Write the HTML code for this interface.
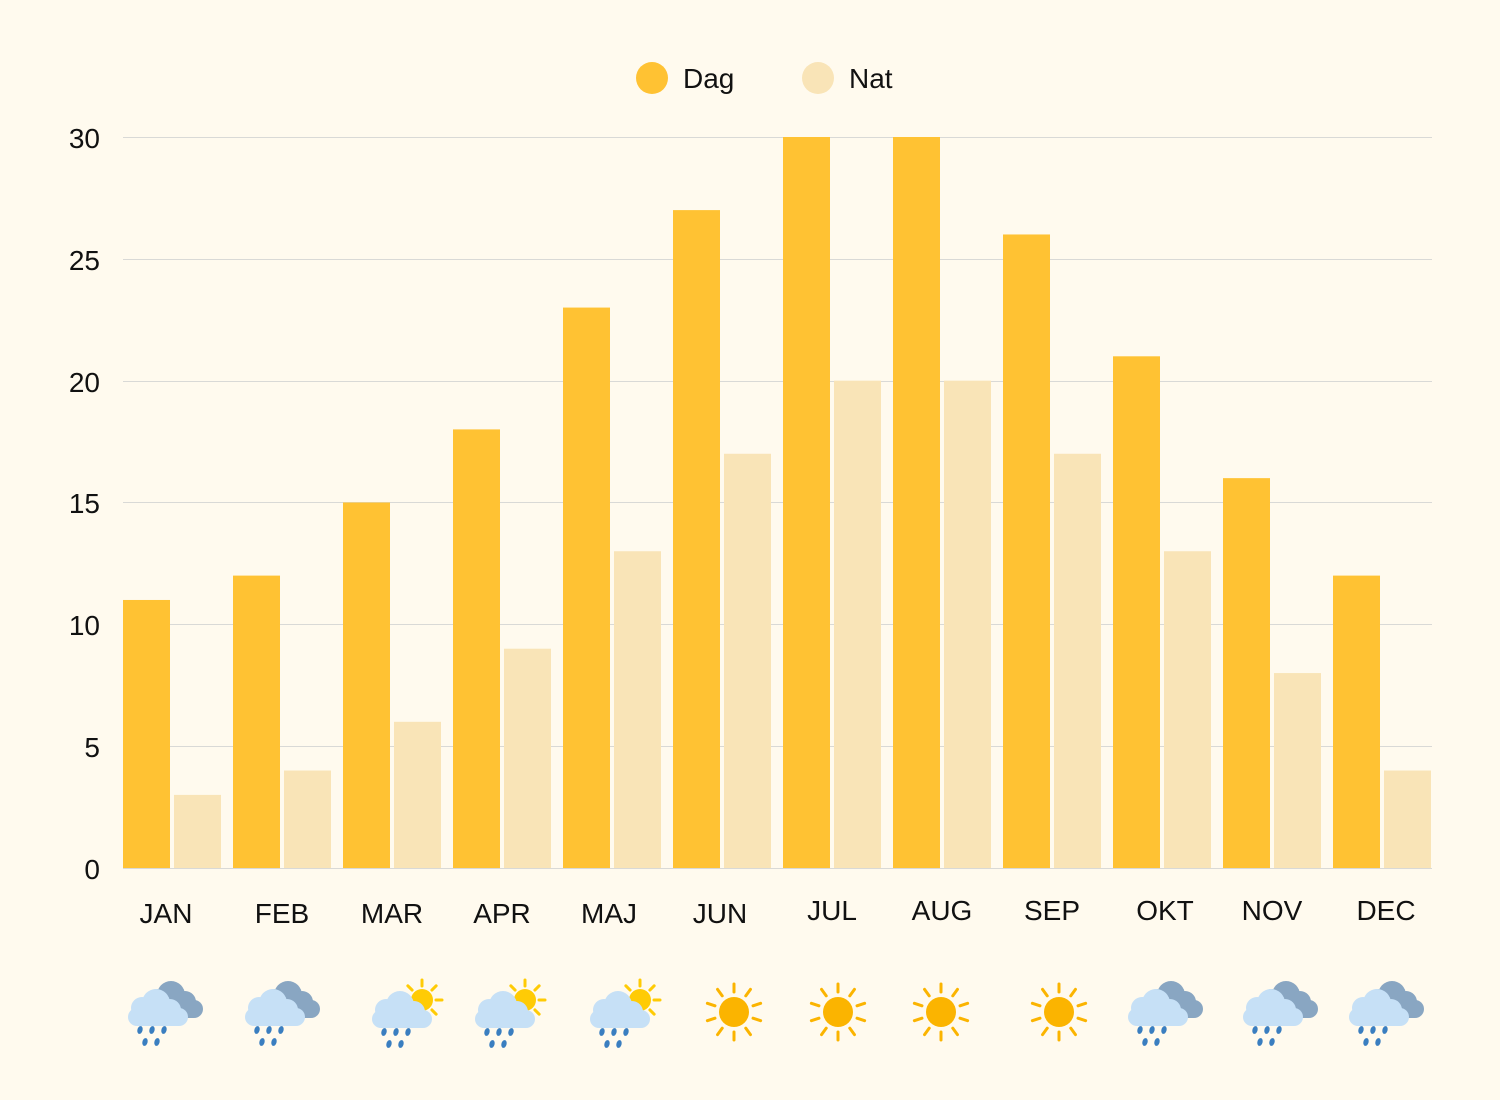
<!DOCTYPE html>
<html><head><meta charset="utf-8"><style>
html,body{margin:0;padding:0;background:#FFFAEE;}
svg{display:block;font-family:"Liberation Sans",sans-serif;}
</style></head><body>
<svg id="s" width="1500" height="1100" viewBox="0 0 1500 1100">
<rect width="1500" height="1100" fill="#FFFAEE"/>
<g stroke="#d9d9d6" stroke-width="1">
<line x1="123" x2="1432" y1="137.5" y2="137.5"/>
<line x1="123" x2="1432" y1="259.5" y2="259.5"/>
<line x1="123" x2="1432" y1="381.5" y2="381.5"/>
<line x1="123" x2="1432" y1="502.5" y2="502.5"/>
<line x1="123" x2="1432" y1="624.5" y2="624.5"/>
<line x1="123" x2="1432" y1="746.5" y2="746.5"/>
<line x1="123" x2="1432" y1="868.5" y2="868.5"/>
</g>
<g font-size="28" fill="#111" text-anchor="end">
<text x="100" y="148">30</text>
<text x="100" y="270">25</text>
<text x="100" y="392">20</text>
<text x="100" y="513">15</text>
<text x="100" y="635">10</text>
<text x="100" y="757">5</text>
<text x="100" y="879">0</text>
</g>
<g id="bars"></g>
<g font-size="28" fill="#111" text-anchor="middle">
<text x="166" y="923">JAN</text>
<text x="282" y="923">FEB</text>
<text x="392" y="923">MAR</text>
<text x="502" y="923">APR</text>
<text x="609" y="923">MAJ</text>
<text x="720" y="923">JUN</text>
<text x="832" y="920">JUL</text>
<text x="942" y="920">AUG</text>
<text x="1052" y="920">SEP</text>
<text x="1165" y="920">OKT</text>
<text x="1272" y="920">NOV</text>
<text x="1386" y="920">DEC</text>
</g>
<circle cx="652" cy="78" r="16" fill="#FFC233"/>
<text x="683" y="88" font-size="28" fill="#111">Dag</text>
<circle cx="818" cy="78" r="16" fill="#F9E4B7"/>
<text x="849" y="88" font-size="28" fill="#111">Nat</text>
<g id="icons"></g>
</svg>
<script>
var NS="http://www.w3.org/2000/svg";
function el(p,t,a){var e=document.createElementNS(NS,t);for(var k in a)e.setAttribute(k,a[k]);p.appendChild(e);return e;}
var dag=[11,12,15,18,23,27,30,30,26,21,16,12],nat=[3,4,6,9,13,17,20,20,17,13,8,4];
var b=document.getElementById("bars"),sc=731/30;
for(var i=0;i<12;i++){
 var x=123+110*i;
 el(b,"rect",{x:x,y:868-dag[i]*sc,width:47,height:dag[i]*sc,fill:"#FFC233"});
 el(b,"rect",{x:x+51,y:868-nat[i]*sc,width:47,height:nat[i]*sc,fill:"#F9E4B7"});
}
var ic=document.getElementById("icons");
function cloud(g,dx,dy,c){
 el(g,"circle",{cx:dx+14,cy:dy+2,r:11,fill:c});
 el(g,"circle",{cx:dx+28,cy:dy-3,r:14,fill:c});
 el(g,"circle",{cx:dx+42,cy:dy+4,r:11,fill:c});
 el(g,"rect",{x:dx,y:dy+2,width:60,height:18,rx:9,fill:c});
}
function drops(g,dx,dy){
 [[12,0],[24,0],[36,0],[17,12],[29,12]].forEach(function(p){
  el(g,"ellipse",{cx:dx+p[0],cy:dy+p[1]+4,rx:2.6,ry:4,fill:"#3A7EC0",transform:"rotate(15 "+(dx+p[0])+" "+(dy+p[1]+4)+")"});
 });
}
function rays(g,cx,cy,r1,r2,n,w,c){
 for(var k=0;k<n;k++){var a=k*2*Math.PI/n;
  el(g,"line",{x1:cx+r1*Math.sin(a),y1:cy-r1*Math.cos(a),x2:cx+r2*Math.sin(a),y2:cy-r2*Math.cos(a),stroke:c,"stroke-width":w,"stroke-linecap":"round"});}
}
function rain(cx){var g=el(ic,"g",{});var x=cx-37,y=1000;
 cloud(g,x+15,y-2,"#89A6C2");cloud(g,x,y+6,"#C6E0F6");drops(g,x,y+26);}
function suncloud(cx){var g=el(ic,"g",{});var x=cx-30,y=1000;
 rays(g,x+50,y,14,20,8,3,"#FFCB05");
 el(g,"circle",{cx:x+50,cy:y,r:11,fill:"#FFCB05"});
 cloud(g,x,y+8,"#C6E0F6");drops(g,x,y+28);}
function sun(cx){var g=el(ic,"g",{});
 rays(g,cx,1012,20,28,10,3,"#FBB400");
 el(g,"circle",{cx:cx,cy:1012,r:15,fill:"#FBB400"});}
[["r",165],["r",282],["s",402],["s",505],["s",620],["u",734],["u",838],["u",941],["u",1059],["r",1165],["r",1280],["r",1386]].forEach(function(p){
 if(p[0]=="r")rain(p[1]);else if(p[0]=="s")suncloud(p[1]);else sun(p[1]);});
</script>
</body></html>
